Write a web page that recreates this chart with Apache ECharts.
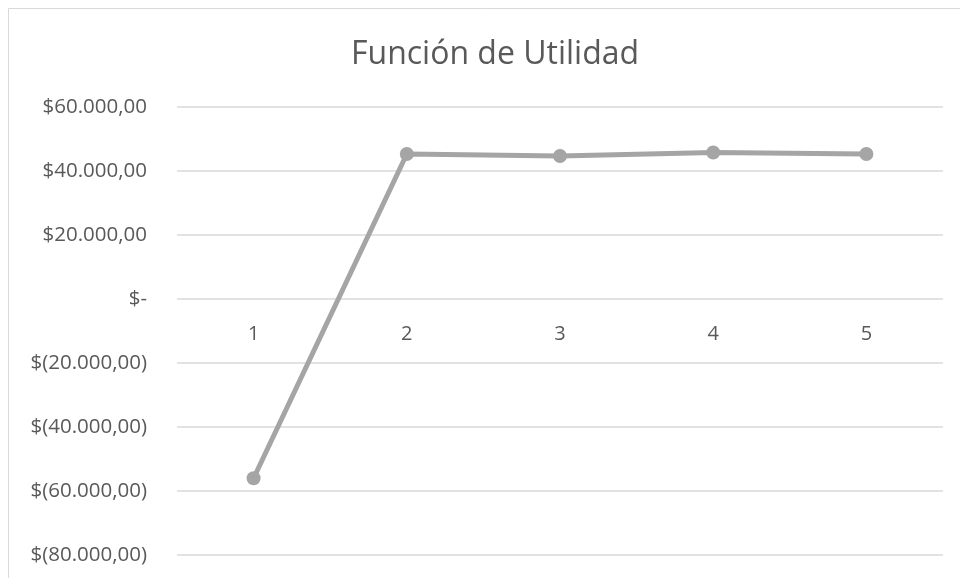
<!DOCTYPE html>
<html>
<head>
<meta charset="utf-8">
<script src="https://cdn.jsdelivr.net/npm/echarts@6/dist/echarts.min.js"></script>
<style>
  html, body { margin: 0; padding: 0; background: #fff; }
  #chart { width: 960px; height: 578px; }
</style>
</head>
<body>
<div id="chart"></div>
<script>
  var categories = ['1', '2', '3', '4', '5'];
  var utilidad = [-56000, 45300, 44700, 45800, 45300];
  var yTicks = [-80000, -60000, -40000, -20000, 0, 20000, 40000, 60000];

  function moneda (v) {
    if (v === 0) return '$-';
    var abs = Math.abs(v);
    var s = abs.toFixed(2).replace('.', ',');
    var parts = s.split(',');
    parts[0] = parts[0].replace(/\B(?=(\d{3})+(?!\d))/g, '.');
    s = parts.join(',');
    return v < 0 ? '$(' + s + ')' : '$' + s;
  }

  var myChart = echarts.init(document.getElementById('chart'));
  myChart.setOption({
    animation: false,
    backgroundColor: '#fff',
    graphic: [{
      type: 'rect',
      shape: { x: 8.5, y: 8.5, width: 1000, height: 700 },
      style: { fill: 'none', stroke: '#d9d9d9', lineWidth: 1 },
      silent: true,
      z: -1
    }],
    title: {
      text: 'Función de Utilidad',
      left: 346,
      top: 34,
      textStyle: {
        fontFamily: 'Open Sans',
        fontSize: 32,
        fontWeight: 'normal',
        color: '#595959'
      }
    },
    grid: {
      left: 177,
      right: 17,
      top: 107,
      bottom: 23,
      outerBoundsMode: 'none'
    },
    xAxis: {
      type: 'category',
      data: categories,
      boundaryGap: true,
      // the labels sit just under the zero line
      offset: -256,
      axisLine: { show: false },
      axisTick: { show: false },
      axisLabel: {
        margin: 25,
        fontFamily: 'Open Sans',
        fontSize: 20,
        color: '#595959'
      }
    },
    yAxis: {
      type: 'value',
      min: yTicks[0],
      max: yTicks[yTicks.length - 1],
      interval: 20000,
      axisLine: { show: false },
      axisTick: { show: false },
      splitLine: { lineStyle: { color: '#d9d9d9', width: 1.5 } },
      axisLabel: {
        margin: 30,
        fontFamily: 'Open Sans',
        fontSize: 20.5,
        color: '#595959',
        formatter: moneda
      }
    },
    series: [{
      name: 'Utilidad',
      type: 'line',
      data: utilidad,
      symbol: 'circle',
      symbolSize: 14,
      lineStyle: { color: '#a5a5a5', width: 5 },
      itemStyle: { color: '#a5a5a5' }
    }]
  });
</script>
</body>
</html>
